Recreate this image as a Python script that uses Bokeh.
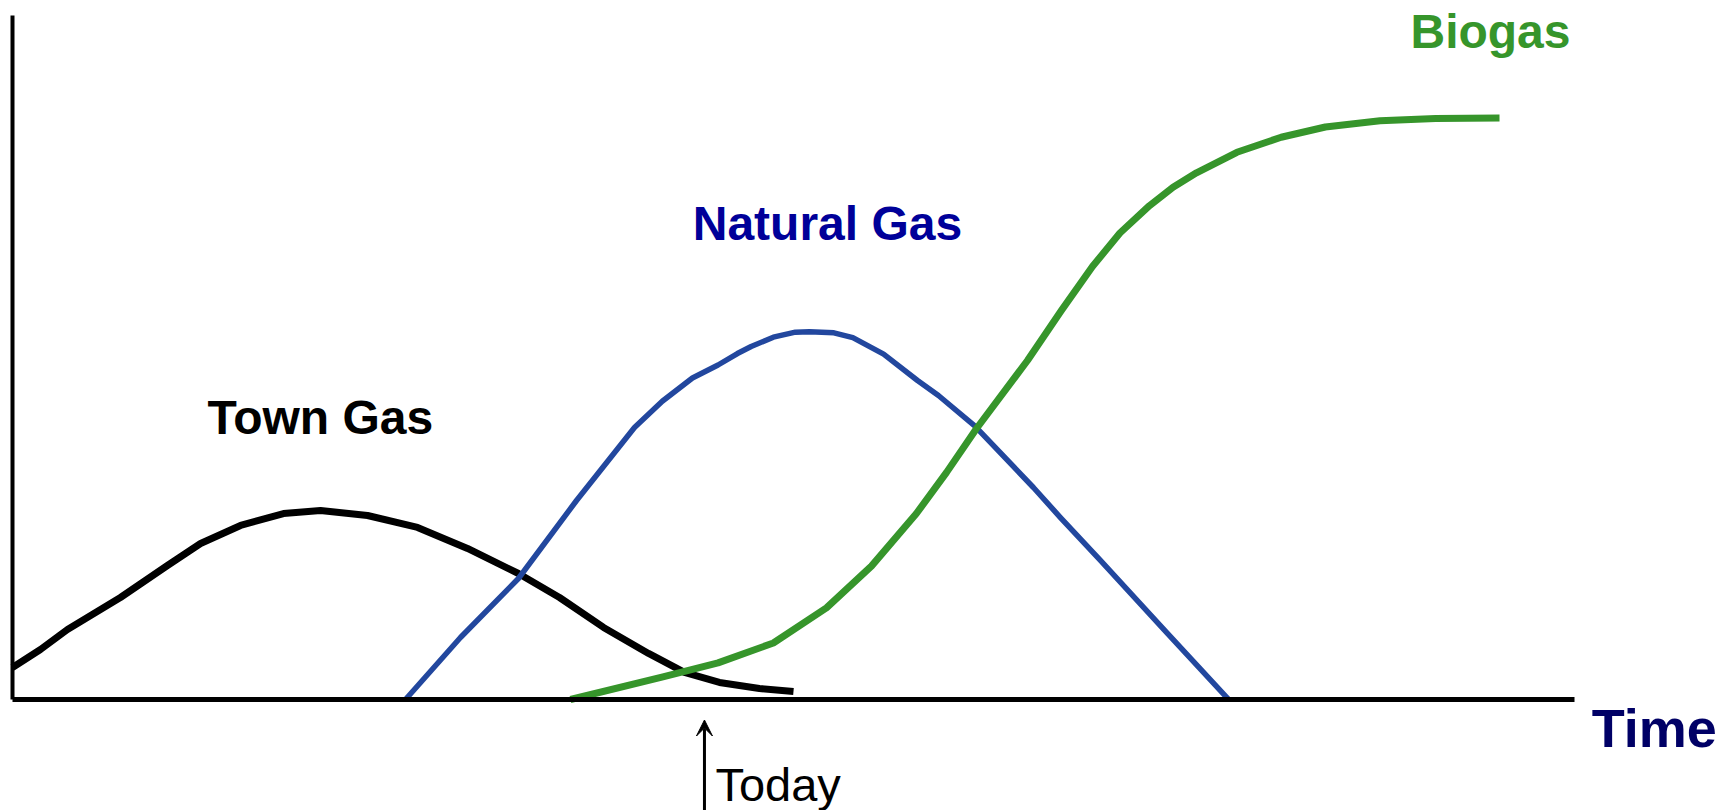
from bokeh.plotting import figure
from bokeh.models import Range1d, Label, Arrow, VeeHead, FixedTicker, LinearAxis
from bokeh.embed import file_html
from bokeh.resources import INLINE

# ---- data (time units 0..100 along the axis, share units 0..100) ----
town_t = [0.0, 1.79, 3.52, 6.91, 9.92, 12.04, 14.60, 17.35, 19.72, 22.73, 25.93,
          29.13, 32.39, 35.02, 37.84, 40.72, 43.02, 45.26, 47.82, 50.00]
town_v = [4.68, 7.31, 10.23, 14.91, 19.59, 22.81, 25.44, 27.19, 27.63, 26.90, 25.15,
          22.08, 18.42, 14.91, 10.53, 6.73, 3.95, 2.49, 1.61, 1.17]

natural_t = [25.16, 28.68, 32.39, 36.11, 39.82, 41.60, 43.53, 45.17, 46.41, 47.29,
             48.71, 50.12, 51.02, 52.59, 53.80, 55.77, 57.94, 59.28, 61.60, 65.36,
             67.09, 69.65, 73.94, 77.85]
natural_v = [0.0, 9.06, 17.69, 29.09, 39.77, 43.60, 47.00, 48.90, 50.58, 51.60,
             52.97, 53.70, 53.75, 53.60, 52.90, 50.50, 46.64, 44.44, 40.00, 30.99,
             26.60, 20.32, 9.65, 0.0]

bio_t = [35.72, 41.64, 45.17, 48.71, 52.11, 54.99, 57.87, 59.80, 61.72, 64.98,
         67.16, 69.14, 70.90, 72.79, 74.30, 75.80, 78.39, 81.22, 84.05, 87.55,
         91.11, 95.20]
bio_v = [0.0, 3.30, 5.35, 8.26, 13.40, 19.50, 27.19, 33.20, 39.62, 49.56,
         56.90, 63.30, 68.20, 72.20, 74.90, 77.00, 80.00, 82.20, 83.70, 84.60,
         84.95, 85.00]

series_names = ["Town Gas", "Natural Gas", "Biogas"]
label_pos_t = [12.48, 43.55, 89.50]
label_pos_v = [41.2, 69.6, 97.7]

x_axis_label = "Time"
today_label = "Today"
today_t = 44.30

# ---- styles ----
LINE_COLORS = ["#000000", "#22479E", "#36952B"]
LABEL_COLORS = ["#000000", "#000099", "#36952B"]
FONT = "Liberation Sans"

W, H = 1728, 810
p = figure(width=W, height=H, output_backend="svg", toolbar_location=None,
           x_range=Range1d(-0.768, 109.86), y_range=Range1d(-16.23, 102.19),
           x_axis_type=None, y_axis_type=None,
           min_border_left=0, min_border_top=0, min_border_right=0, min_border_bottom=0)
p.outline_line_color = None
p.grid.visible = False
p.background_fill_color = "white"
p.border_fill_color = "white"

for loc, lw in (("below", 5), ("left", 4)):
    ax = LinearAxis(ticker=FixedTicker(ticks=[]), axis_line_width=lw, axis_line_color="black",
                    major_tick_out=0, major_tick_in=0, minor_tick_out=0, minor_tick_in=0,
                    major_label_standoff=0, major_label_text_font_size="0px",
                    axis_label=None, fixed_location=0, bounds=(0, 100))
    p.add_layout(ax, loc)

p.line(town_t, town_v, line_color=LINE_COLORS[0], line_width=7, line_join="round")
p.line(natural_t, natural_v, line_color=LINE_COLORS[1], line_width=5.5, line_join="round")
p.line(bio_t, bio_v, line_color=LINE_COLORS[2], line_width=7, line_join="round")

for name, tt, vv, col in zip(series_names, label_pos_t, label_pos_v, LABEL_COLORS):
    p.add_layout(Label(x=tt, y=vv, text=name, text_color=col, text_font=FONT,
                       text_font_style="bold", text_font_size="48px",
                       text_align="left", text_baseline="alphabetic"))

p.add_layout(Label(x=101.1, y=-4.2, text=x_axis_label, text_color="#000066", text_font=FONT,
                   text_font_style="bold", text_font_size="54px",
                   text_align="left", text_baseline="alphabetic"))
p.add_layout(Label(x=45.0, y=-12.5, text=today_label, text_color="black", text_font=FONT,
                   text_font_size="47px", text_align="left", text_baseline="alphabetic"))
p.add_layout(Arrow(end=VeeHead(size=16, fill_color="black", line_color="black"),
                   x_start=today_t, y_start=-16.2, x_end=today_t, y_end=-3.0,
                   line_width=3, line_color="black"))

open("out.html", "w").write(file_html(p, INLINE))
